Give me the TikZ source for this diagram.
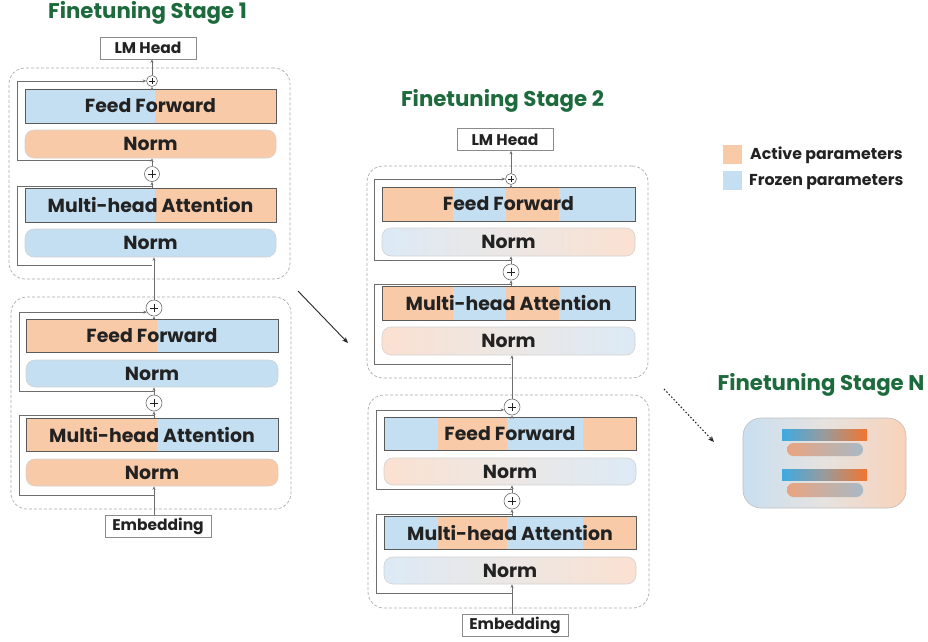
\documentclass[tikz,border=0pt]{standalone}
\usepackage{fontspec}
\setmainfont{Poppins}
\usetikzlibrary{arrows.meta,calc}
\definecolor{orP}{HTML}{F9CAA7}
\definecolor{blP}{HTML}{C5DFF2}
\definecolor{lbl}{HTML}{DCEAF6}
\definecolor{lor}{HTML}{FBE1D1}
\definecolor{lmid}{HTML}{ECE7E4}
\definecolor{ttlG}{HTML}{1D6B3C}
\definecolor{txtC}{HTML}{222222}
\definecolor{lineC}{HTML}{5A5A5A}
\definecolor{nrmB}{HTML}{D2D2D2}
\definecolor{resC}{HTML}{6E6E6E}
\definecolor{dashC}{HTML}{ABABAB}
\definecolor{nbL}{HTML}{C9DFF0}
\definecolor{nbR}{HTML}{F8D2B8}
\definecolor{nbM}{HTML}{E6E2E0}
\definecolor{barL}{HTML}{3FA9E1}
\definecolor{barM}{HTML}{9A9A9A}
\definecolor{barR}{HTML}{F17531}
\definecolor{pilL}{HTML}{E9A47F}
\definecolor{pilR}{HTML}{A9B9C6}
\newcommand{\lab}{\bfseries\fontsize{18.9}{22}\selectfont}
\newcommand{\sml}{\bfseries\fontsize{15.5}{18}\selectfont}
\tikzset{
  lay/.style={draw=lineC, line width=0.8pt, inner sep=0pt, font=\lab, text=txtC, minimum width=#1},
  lay/.default=251pt,
  nrm/.style={draw=nrmB, line width=0.6pt, rounded corners=9pt, inner sep=0pt, font=\lab, text=txtC, minimum width=#1},
  nrm/.default=251pt,
  dashbox/.style={draw=dashC, dash pattern=on 3pt off 2pt, line width=0.7pt, rounded corners=16pt, inner sep=0pt},
  iobox/.style={draw=lineC!70, line width=0.7pt, fill=white, inner sep=0pt, minimum width=96pt, minimum height=22pt, font=\sml, text=txtC},
  pls/.style={circle, draw=resC, fill=white, line width=0.6pt, inner sep=0pt, minimum size=#1,
    path picture={
      \draw[line width=0.8pt, txtC] ($(path picture bounding box.center)!0.5!(path picture bounding box.west)$) -- ($(path picture bounding box.center)!0.5!(path picture bounding box.east)$);
      \draw[line width=0.8pt, txtC] ($(path picture bounding box.center)!0.5!(path picture bounding box.north)$) -- ($(path picture bounding box.center)!0.5!(path picture bounding box.south)$);}},
  res/.style={draw=resC, line width=0.7pt},
  arr/.style={-{Stealth[length=3.5pt,width=3pt]}},
  ttl/.style={font=\bfseries\fontsize{21.3}{24}\selectfont, text=ttlG, inner sep=0pt},
  leg/.style={font=\bfseries\fontsize{15.8}{18}\selectfont, text=txtC, inner sep=0pt, anchor=west},
}
\begin{document}
\begin{tikzpicture}[x=1pt,y=-1pt]
\useasboundingbox (0,0) rectangle (928,641);

% ================= Titles =================
\node[ttl] (t1) at (147.5,13) {Finetuning Stage 1};
\node[ttl] (t2) at (502.5,101) {Finetuning Stage 2};
\node[ttl] (tn) at (821,385) {Finetuning Stage N};

% ================= Stage 1, upper block =================
\node[dashbox, minimum width=281pt, minimum height=211pt] (d1a) at (149.5,173.5) {};
\fill[blP] (25,89) rectangle (155,123); \fill[orP] (155,89) rectangle (276,123);
\node[lay, minimum height=34pt] (ff1a) at (150.5,106) {Feed Forward};
\node[nrm, fill=orP, minimum height=28pt] (n1a) at (150.5,144) {Norm};
\fill[blP] (25,188) rectangle (155,222); \fill[orP] (155,188) rectangle (276,222);
\node[lay, minimum height=34pt] (mh1a) at (150.5,205) {Multi-head Attention};
\node[nrm, fill=blP, minimum height=28pt] (n2a) at (150.5,243) {Norm};
\node[pls=11pt] (pt1a) at (152,81) {};
\node[pls=15pt] (pm1a) at (152,174) {};
\node[iobox] (lm1) at (148,48) {LM Head};
\coordinate (r1a) at (17,0);
\coordinate (jb1a) at (152,160);
\coordinate (jt1a) at (152,186);
\coordinate (jb2a) at (152,265);
\draw[res,arr] (jb1a) -- (r1a |- jb1a) |- (pt1a.west);
\draw[res] (jb2a) -- (r1a |- jb2a) |- (jt1a);
\draw[res,arr] (pm1a |- mh1a.north) -- (pm1a.south);
\draw[res,arr] (pm1a.north) -- (pm1a.north |- n1a.south);
\draw[res,arr] (pt1a |- ff1a.north) -- (pt1a.south);
\draw[res,arr] (pt1a.north) -- (pt1a.north |- lm1.south);

% ================= Stage 1, lower block =================
\node[dashbox, minimum width=280pt, minimum height=212pt] (d1b) at (151,403) {};
\fill[orP] (26,319) rectangle (157,352); \fill[blP] (157,319) rectangle (278,352);
\node[lay=252pt, minimum height=33pt] (ff1b) at (152,335.5) {Feed Forward};
\node[nrm=252pt, fill=blP, minimum height=27pt] (n1b) at (152,373.5) {Norm};
\fill[orP] (26,418) rectangle (157,451); \fill[blP] (157,418) rectangle (278,451);
\node[lay=252pt, minimum height=33pt] (mh1b) at (152,434.5) {Multi-head Attention};
\node[nrm=252pt, fill=orP, minimum height=27pt] (n2b) at (152,472.5) {Norm};
\node[pls=16pt] (pt1b) at (154,308) {};
\node[pls=16pt] (pm1b) at (154,403) {};
\node[iobox, minimum width=106pt] (emb1) at (158,526) {Embedding};
\coordinate (r1b) at (19,0);
\coordinate (jb1b) at (154,391);
\coordinate (jt1b) at (154,415);
\coordinate (jb2b) at (154,495);
\draw[res,arr] (jb1b) -- (r1b |- jb1b) |- (pt1b.210);
\draw[res] (jb2b) -- (r1b |- jb2b) |- (jt1b);
\draw[res,arr] (pm1b |- mh1b.north) -- (pm1b.south);
\draw[res,arr] (pm1b.north) -- (pm1b.north |- n1b.south);
\draw[res,arr] (pt1b |- ff1b.north) -- (pt1b.south);
\draw[res,arr] (pt1b.north) -- (pt1b.north |- n2a.south);
\draw[res,arr] (emb1.north -| pm1b) -- (pm1b |- n2b.south);

% ================= Stage 2, upper block =================
\node[dashbox, minimum width=281pt, minimum height=212pt] (d2a) at (507.5,272) {};
\node[iobox] (lm2) at (505,139.5) {LM Head};
\fill[orP] (382,187) rectangle (453,221); \fill[blP] (453,187) rectangle (506,221);
\fill[orP] (506,187) rectangle (559,221); \fill[blP] (559,187) rectangle (635,221);
\node[lay=253pt, minimum height=34pt] (ff2a) at (508.5,204) {Feed Forward};
\node[nrm=253pt, left color=lbl, right color=lor, middle color=lmid, minimum height=28pt] (n1c) at (508.5,242) {Norm};
\fill[orP] (382,286) rectangle (453,320); \fill[blP] (453,286) rectangle (506,320);
\fill[orP] (506,286) rectangle (559,320); \fill[blP] (559,286) rectangle (635,320);
\node[lay=253pt, minimum height=34pt] (mh2a) at (508.5,303) {Multi-head Attention};
\node[nrm=253pt, left color=lor, right color=lbl, middle color=lmid, minimum height=28pt] (n2c) at (508.5,341) {Norm};
\node[pls=11pt] (pt2a) at (511,179) {};
\node[pls=16pt] (pm2a) at (511,272) {};
\coordinate (r2a) at (374,0);
\coordinate (jb1c) at (511,260);
\coordinate (jt1c) at (511,284);
\coordinate (jb2c) at (511,364);
\draw[res,arr] (jb1c) -- (r2a |- jb1c) |- (pt2a.west);
\draw[res] (jb2c) -- (r2a |- jb2c) |- (jt1c);
\draw[res,arr] (pm2a |- mh2a.north) -- (pm2a.south);
\draw[res,arr] (pm2a.north) -- (pm2a.north |- n1c.south);
\draw[res,arr] (pt2a |- ff2a.north) -- (pt2a.south);
\draw[res,arr] (pt2a.north) -- (pt2a.north |- lm2.south);

% ================= Stage 2, lower block =================
\node[dashbox, minimum width=281pt, minimum height=213pt] (d2b) at (508.5,501.5) {};
\fill[blP] (384,417) rectangle (438,450); \fill[orP] (438,417) rectangle (507,450);
\fill[blP] (507,417) rectangle (583,450); \fill[orP] (583,417) rectangle (636,450);
\node[lay=252pt, minimum height=33pt] (ff2b) at (510,433.5) {Feed Forward};
\node[nrm=252pt, left color=lor, right color=lbl, middle color=lmid, minimum height=27pt] (n1d) at (510,471.5) {Norm};
\fill[blP] (384,516) rectangle (438,549); \fill[orP] (438,516) rectangle (507,549);
\fill[blP] (507,516) rectangle (583,549); \fill[orP] (583,516) rectangle (636,549);
\node[lay=252pt, minimum height=33pt] (mh2b) at (510,532.5) {Multi-head Attention};
\node[nrm=252pt, left color=lbl, right color=lor, middle color=lmid, minimum height=27pt] (n2d) at (510,570.5) {Norm};
\node[pls=16pt] (pt2b) at (512,407) {};
\node[pls=16pt] (pm2b) at (512,501) {};
\node[iobox, minimum width=106pt] (emb2) at (515,625) {Embedding};
\coordinate (r2b) at (376,0);
\coordinate (jb1d) at (512,489);
\coordinate (jt1d) at (512,514);
\coordinate (jb2d) at (512,593);
\draw[res,arr] (jb1d) -- (r2b |- jb1d) |- (pt2b.200);
\draw[res] (jb2d) -- (r2b |- jb2d) |- (jt1d);
\draw[res,arr] (pm2b |- mh2b.north) -- (pm2b.south);
\draw[res,arr] (pm2b.north) -- (pm2b.north |- n1d.south);
\draw[res,arr] (pt2b |- ff2b.north) -- (pt2b.south);
\draw[res,arr] (pt2b.north) -- (pt2b.north |- n2c.south);
\draw[res,arr] (emb2.north -| pm2b) -- (pm2b |- n2d.south);

% ================= Stage N =================
\node[draw=black!25, line width=0.6pt, rounded corners=18pt, left color=nbL, right color=nbR, middle color=nbM, minimum width=163pt, minimum height=90pt, inner sep=0pt] (nbox) at (824.5,463) {};
\node[inner sep=0pt, minimum width=85pt, minimum height=11pt, left color=barL, right color=barR, middle color=barM] (bar1) at (824.5,434.5) {};
\node[inner sep=0pt, rounded corners=6.5pt, minimum width=76pt, minimum height=13pt, left color=pilL, right color=pilR] (pil1) at (825,449.5) {};
\node[inner sep=0pt, minimum width=85pt, minimum height=11pt, left color=barL, right color=barR, middle color=barM] (bar2) at (824.5,475) {};
\node[inner sep=0pt, rounded corners=6.5pt, minimum width=76pt, minimum height=14pt, left color=pilL, right color=pilR] (pil2) at (825,490) {};

% ================= Stage arrows =================
\coordinate (a1s) at (298,291);
\coordinate (a1e) at (348,343);
\coordinate (a2s) at (664,389);
\coordinate (a2e) at (714,442);
\draw[line width=0.9pt, black!85, -{Stealth[length=6pt,width=5pt]}] (a1s) -- (a1e);
\draw[line width=1.1pt, black!85, dash pattern=on 1.5pt off 2pt, -{Stealth[length=6pt,width=5pt]}] (a2s) -- (a2e);

% ================= Legend =================
\node[fill=orP, minimum size=19pt, inner sep=0pt] (lgo) at (732.5,154.5) {};
\node[fill=blP, minimum size=19pt, inner sep=0pt] (lgb) at (732.5,180.5) {};
\node[leg] (lgot) at (750,155) {Active parameters};
\node[leg] (lgbt) at (749,182) {Frozen parameters};
\end{tikzpicture}
\end{document}
